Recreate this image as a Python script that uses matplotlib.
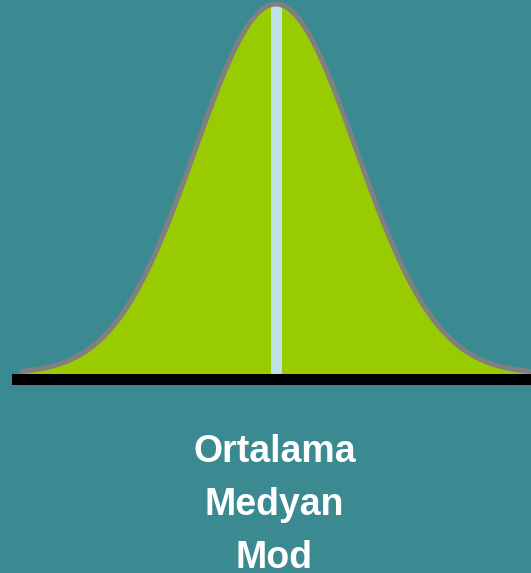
import numpy as np
import matplotlib.pyplot as plt

# normal curve where mean, median and mode coincide
mean = 0.0
std_dev = 1.0
labels = ["Ortalama", "Medyan", "Mod"]

bg_color = "#3B8A91"
fill_color = "#99CC00"
edge_color = "#808080"
center_color = "#BEE1E6"

W, H = 531, 573
fig = plt.figure(figsize=(W / 100, H / 100), dpi=100, facecolor=bg_color)
ax = fig.add_axes([0, 0, 1, 1])
ax.set_facecolor(bg_color)
ax.axis("off")

# pixel layout of the picture
center_px = 275.8
sigma_px = 80.5
base_px = 374       # top of baseline bar, from top
peak_h_px = 370
peak = 1 / (std_dev * np.sqrt(2 * np.pi))
y_per_px = peak / peak_h_px

ax.set_xlim(mean - center_px / sigma_px * std_dev, mean + (W - center_px) / sigma_px * std_dev)
ax.set_ylim(-(H - base_px) * y_per_px, base_px * y_per_px)

# curve starts just right of the bar's left end
x_start = ax.get_xlim()[0] + 20 / sigma_px * std_dev
xs = np.linspace(x_start, ax.get_xlim()[1] + 0.1, 600)
ys = np.exp(-0.5 * ((xs - mean) / std_dev) ** 2) / (std_dev * np.sqrt(2 * np.pi))

ax.fill_between(xs, 0, ys, color=fill_color, linewidth=0, zorder=1)
ax.vlines(mean, 0, peak, color=center_color, linewidth=11 * 0.72, zorder=2)
ax.plot(xs, ys, color=edge_color, linewidth=5 * 0.72, zorder=3,
        solid_capstyle="butt")

# baseline bar
ax.axhspan(-11 * y_per_px, 0, xmin=12 / W, xmax=1, color="black", linewidth=0, zorder=4)

for i, lab in enumerate(labels):
    fig.text(274.5 / W, 1 - (462 + 53 * i) / H, lab, color="white", fontsize=27,
             fontweight="bold", family="Liberation Sans", ha="center", va="baseline")

fig.savefig("out.png", dpi=100, facecolor=bg_color)
